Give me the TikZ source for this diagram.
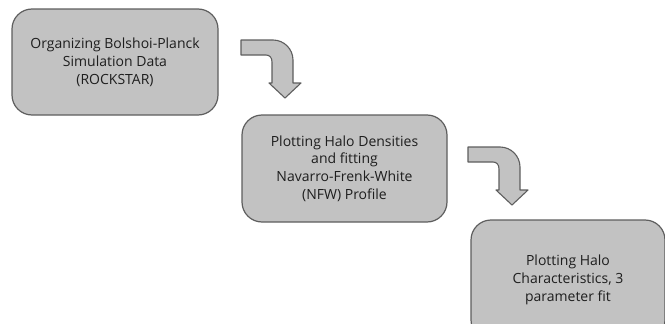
\documentclass[tikz,border=0pt]{standalone}
\usepackage{fontspec}
\setmainfont{Open Sans}
\definecolor{boxfill}{HTML}{C2C2C2}
\definecolor{boxline}{HTML}{5E5E5E}
\definecolor{txt}{HTML}{1E1E1E}
\begin{document}
\begin{tikzpicture}[x=1pt,y=-1pt,
  stepbox/.style={draw=boxline,fill=boxfill,line width=1.2pt,rounded corners=20pt,
    minimum width=#1,align=center,text=txt,
    font=\fontsize{14}{17.8}\selectfont,inner sep=0pt},
  bentarrow/.style={draw=boxline,fill=boxfill,line width=1.1pt,line join=round},
  pics/bent/.style={code={
    \draw[bentarrow] (241,40) -- (273,40) .. controls (284,40) and (293,49) .. (293,60)
      -- (293,83) -- (301,83) -- (285,98) -- (269,83) -- (272,83) -- (272,62)
      .. controls (272,58) and (270,55) .. (266,55) -- (241,55) -- cycle;}}]
\useasboundingbox (0,0) rectangle (665,324);
\begin{scope}
\clip (0,0) rectangle (665,324);
\node[stepbox=206pt,minimum height=106pt] (b1) at (115,62)
  {Organizing Bolshoi-Planck\\Simulation Data\\(ROCKSTAR)};
\node[stepbox=205pt,minimum height=107pt] (b2) at (344.5,168.5)
  {Plotting Halo Densities\\and fitting\\Navarro-Frenk-White\\(NFW) Profile};
\node[stepbox=194pt,minimum height=120pt] (b3) at (568,280)
  {Plotting Halo\\Characteristics, 3\\parameter fit};
\pic at (0,0) {bent};
\pic at (227,107) {bent};
\end{scope}
\end{tikzpicture}
\end{document}
